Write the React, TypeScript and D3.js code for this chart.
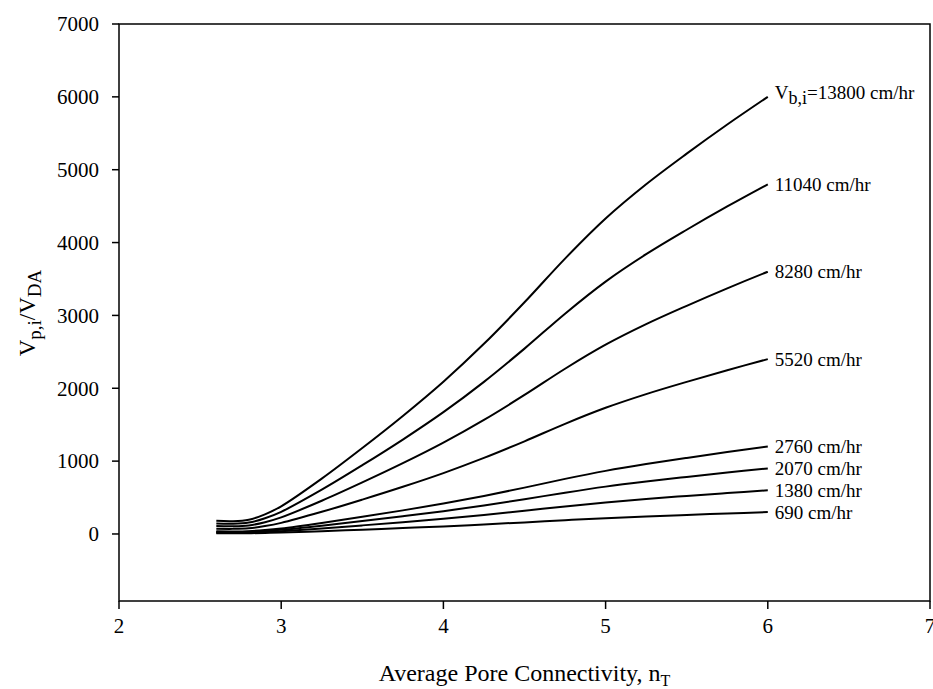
import React from 'react';
import * as d3 from 'd3';

// x positions where the curves were read (average pore connectivity)
const connectivity = [2.6, 2.7, 2.8, 2.9, 3.0, 3.25, 3.5, 3.75, 4.0, 4.25, 4.5, 4.75, 5.0, 5.25, 5.5, 5.75, 6.0];

// V_p,i / V_DA, one list per bulk velocity
const v13800 = [180, 175, 195, 270, 380, 760, 1180, 1620, 2090, 2610, 3180, 3780, 4330, 4800, 5220, 5620, 6000];
const v11040 = [144, 140, 156, 216, 304, 608, 944, 1296, 1672, 2088, 2544, 3024, 3464, 3840, 4176, 4496, 4800];
const v8280 = [108, 105, 117, 162, 228, 456, 708, 972, 1254, 1566, 1908, 2268, 2598, 2880, 3132, 3372, 3600];
const v5520 = [72, 70, 78, 108, 152, 304, 472, 648, 836, 1044, 1272, 1512, 1732, 1920, 2088, 2248, 2400];
const v2760 = [36, 35, 39, 54, 76, 152, 236, 324, 418, 522, 636, 756, 866, 960, 1044, 1124, 1200];
const v2070 = [27, 26, 29, 41, 57, 114, 177, 243, 313, 392, 477, 567, 650, 720, 783, 843, 900];
const v1380 = [18, 18, 20, 27, 38, 76, 118, 162, 209, 261, 318, 378, 433, 480, 522, 562, 600];
const v690 = [9, 9, 10, 14, 19, 38, 59, 81, 104, 131, 159, 189, 217, 240, 261, 281, 300];

const seriesLabels = ['13800 cm/hr', '11040 cm/hr', '8280 cm/hr', '5520 cm/hr', '2760 cm/hr', '2070 cm/hr', '1380 cm/hr', '690 cm/hr'];
const seriesValues = [v13800, v11040, v8280, v5520, v2760, v2070, v1380, v690];

const xTicks = [2, 3, 4, 5, 6, 7];
const yTicks = [0, 1000, 2000, 3000, 4000, 5000, 6000, 7000];

const W = 933;
const H = 689;
const left = 119, right = 930, top = 24, bottom = 601;
const font = '"Liberation Serif", "Times New Roman", serif';

export default function App() {
  const x = d3.scaleLinear().domain([2, 7]).range([left, right]);
  const y = d3.scaleLinear().domain([-920, 7000]).range([bottom, top]);

  const line = d3.line<[number, number]>()
    .x(d => x(d[0]))
    .y(d => y(d[1]))
    .curve(d3.curveCatmullRom.alpha(0.5));

  return (
    <svg width={W} height={H} style={{ position: 'absolute', left: 0, top: 0, background: '#fff' }}
      fontFamily={font}>
      {/* frame */}
      <rect x={left} y={top} width={right - left} height={bottom - top} fill="none" stroke="#000" strokeWidth={1.5} />

      {/* y ticks */}
      {yTicks.map(t => (
        <g key={'y' + t}>
          <line x1={left - 7} x2={left} y1={y(t)} y2={y(t)} stroke="#000" strokeWidth={1.5} />
          <text x={left - 20} y={y(t)} dy="0.35em" textAnchor="end" fontSize={21}>{t}</text>
        </g>
      ))}

      {/* x ticks */}
      {xTicks.map(t => (
        <g key={'x' + t}>
          <line x1={x(t)} x2={x(t)} y1={bottom} y2={bottom + 8} stroke="#000" strokeWidth={1.5} />
          <text x={x(t)} y={633} textAnchor="middle" fontSize={21}>{t}</text>
        </g>
      ))}

      {/* curves */}
      {seriesValues.map((vals, i) => (
        <path key={'s' + i}
          d={line(connectivity.map((c, j) => [c, vals[j]] as [number, number])) || ''}
          fill="none" stroke="#000" strokeWidth={2} />
      ))}

      {/* curve labels */}
      {seriesValues.map((vals, i) => (
        <text key={'l' + i} x={x(6) + 7} y={y(vals[vals.length - 1])} dy={i === 0 ? '0.1em' : '0.35em'} fontSize={19}>
          {i === 0 ? (
            <>
              <tspan>V</tspan>
              <tspan dy="5" fontSize={18}>b,i</tspan>
              <tspan dy="-5">={seriesLabels[i]}</tspan>
            </>
          ) : seriesLabels[i]}
        </text>
      ))}

      {/* axis titles */}
      <text x={x(4.5)} y={681} textAnchor="middle" fontSize={24}>
        Average Pore Connectivity, n
        <tspan dy="5" fontSize={16}>T</tspan>
      </text>
      <text transform={`translate(35,${313}) rotate(-90)`} textAnchor="middle" fontSize={23}>
        V
        <tspan dy="6" fontSize={19}>p,i</tspan>
        <tspan dy="-6">/V</tspan>
        <tspan dy="6" fontSize={19}>DA</tspan>
      </text>
    </svg>
  );
}
